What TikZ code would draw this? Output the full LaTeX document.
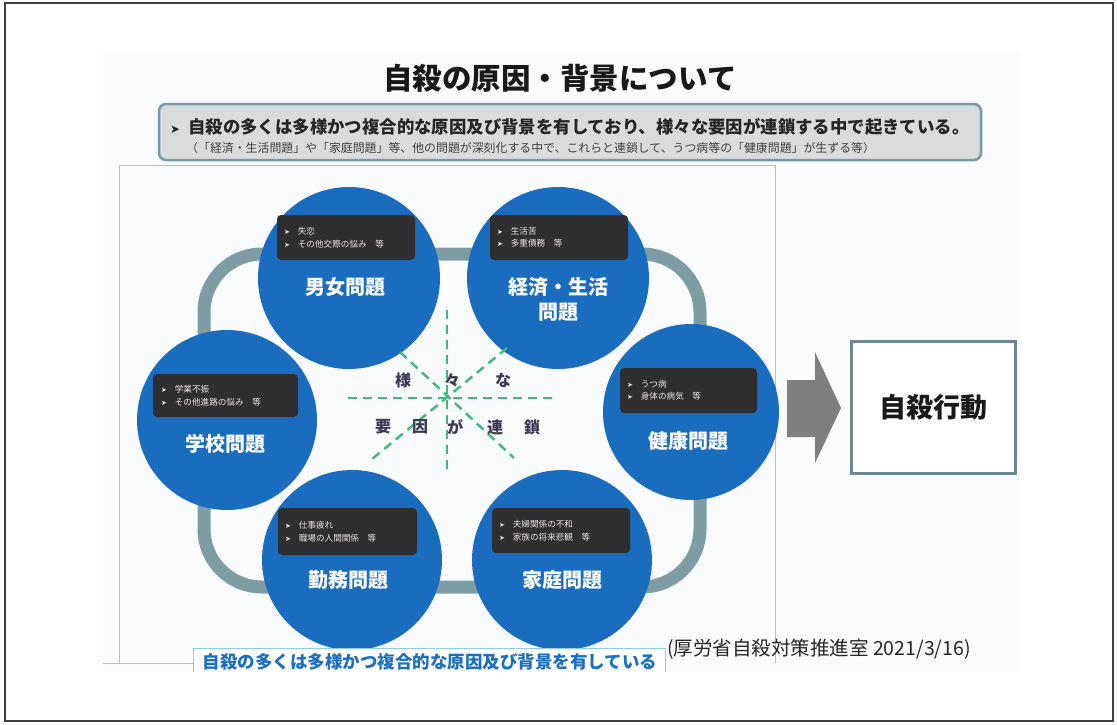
\documentclass[tikz,border=0pt]{standalone}
\usepackage{fontspec}
\setmainfont{Noto Sans CJK JP}
\newfontfamily\arrowfont{DejaVu Sans}
\definecolor{bgc}{HTML}{FAFBFD}
\definecolor{circc}{HTML}{1A6DBE}
\definecolor{dboxc}{HTML}{2F2F31}
\definecolor{loopc}{HTML}{7E9CA3}
\definecolor{boxfill}{HTML}{D9DBDD}
\definecolor{boxedge}{HTML}{7898A8}
\definecolor{panelc}{HTML}{8FCDE3}
\definecolor{greenc}{HTML}{3DB878}
\definecolor{navyt}{HTML}{3A3A56}
\definecolor{arrowc}{HTML}{7F7F7F}
\definecolor{actedge}{HTML}{6C8898}
\definecolor{bluet}{HTML}{1C6FC0}
\definecolor{smallt}{HTML}{EFE4E4}
\newcommand{\arr}{{\arrowfont\fontsize{7}{12}\selectfont ➤}\hspace{8pt}}
\begin{document}
\begin{tikzpicture}[x=1pt,y=-1pt,
  circ/.style={circle, fill=circc, minimum size=#1, inner sep=0pt},
  dbox/.style={fill=dboxc, rounded corners=4pt, text=smallt, align=left, inner sep=0pt,
     font=\fontsize{8.6}{12.5}\selectfont},
  clabel/.style={text=white, font=\fontsize{20}{25}\selectfont\bfseries, align=center},
  gdash/.style={draw=greenc, line width=2.4pt, dash pattern=on 9pt off 6pt},
  midtxt/.style={text=navyt, font=\fontsize{16}{16}\selectfont\bfseries},
  ]
\useasboundingbox (0,0) rectangle (1117,724);
\draw[black!75, line width=1.2pt] (5,3) rectangle (1113,721);
\fill[bgc] (103,53) rectangle (1019,672);

% title
\node[font=\fontsize{29.5}{30}\selectfont\bfseries, text=black!90] (title) at (560,78) {自殺の原因・背景について};

% intro box
\node[draw=boxedge, fill=boxfill, line width=2.5pt, rounded corners=7pt,
      minimum width=822pt, minimum height=56pt] (intro) at (570,132) {};
\node[anchor=west, inner sep=0pt, font=\fontsize{17.4}{18}\selectfont\bfseries, text=black!85] (intro1) at (170,127)
  {{\arrowfont\fontsize{12}{12}\selectfont ➤}\hspace{8pt}自殺の多くは多様かつ複合的な原因及び背景を有しており、様々な要因が連鎖する中で起きている。};
\node[anchor=west, inner sep=0pt, font=\fontsize{11.9}{12}\selectfont, text=black!75] (intro2) at (186,148)
  {（「経済・生活問題」や「家庭問題」等、他の問題が深刻化する中で、これらと連鎖して、うつ病等の「健康問題」が生ずる等）};

% panel
\draw[panelc, line width=0.9pt] (119,663) -- (119,165) -- (775,165) -- (775,663);
\draw[panelc, line width=0.9pt] (103,663) -- (193,663);

% loop
\draw[loopc, line width=13pt, rounded corners=58pt] (204,254) rectangle (700,587);

% circles
\node[circ=182pt] (danjo) at (349,278) {};
\node[circ=182pt] (keizai) at (558,278) {};
\node[circ=180pt] (gakko) at (227,420) {};
\node[circ=176pt] (kenko) at (691,412) {};
\node[circ=180pt] (kinmu) at (352,560) {};
\node[circ=180pt] (katei) at (562,560) {};

% dark boxes
\node[dbox, minimum width=138pt, minimum height=45pt, text width=124pt] (danjoB) at (346,237.5)
 {\arr 失恋\\\arr その他交際の悩み　等};
\node[dbox, minimum width=138pt, minimum height=45pt, text width=124pt] (keizaiB) at (559,237.5)
 {\arr 生活苦\\\arr 多重債務　等};
\node[dbox, minimum width=145pt, minimum height=43pt, text width=129pt] (gakkoB) at (225.5,395.5)
 {\arr 学業不振\\\arr その他進路の悩み　等};
\node[dbox, minimum width=137pt, minimum height=45pt, text width=123pt] (kenkoB) at (688.5,390.5)
 {\arr うつ病\\\arr 身体の病気　等};
\node[dbox, minimum width=139pt, minimum height=47pt, text width=125pt] (kinmuB) at (347.5,531.5)
 {\arr 仕事疲れ\\\arr 職場の人間関係　等};
\node[dbox, minimum width=138pt, minimum height=45pt, text width=124pt] (kateiB) at (561,530.5)
 {\arr 夫婦関係の不和\\\arr 家族の将来悲観　等};

% circle labels
\node[clabel] (danjoL) at (345,287) {男女問題};
\node[clabel] (keizaiL) at (558,299.5) {経済・生活\\問題};
\node[clabel] (gakkoL) at (225,444) {学校問題};
\node[clabel] (kenkoL) at (688,441) {健康問題};
\node[clabel] (kinmuL) at (348,580) {勤務問題};
\node[clabel] (kateiL) at (562,580) {家庭問題};

% green dashed burst
\coordinate (vt) at (447,310); \coordinate (vb) at (447,474);
\coordinate (hl) at (348,398); \coordinate (hr) at (557,398);
\coordinate (d1a) at (400,352); \coordinate (d1b) at (514,458);
\coordinate (d2a) at (507,348); \coordinate (d2b) at (372,459);
\draw[gdash] (vt) -- (vb);
\draw[gdash] (hl) -- (hr);
\draw[gdash] (d1a) -- (d1b);
\draw[gdash] (d2a) -- (d2b);

\node[midtxt] (m1) at (403,380) {様};
\node[midtxt] (m2) at (452,380) {々};
\node[midtxt] (m3) at (503,380) {な};
\node[midtxt] (m4) at (383,427) {要};
\node[midtxt] (m5) at (420,427) {因};
\node[midtxt] (m6) at (455,427) {が};
\node[midtxt] (m7) at (495,427) {連};
\node[midtxt] (m8) at (532,427) {鎖};

% block arrow
\fill[arrowc] (787,380) -- (815,380) -- (815,352) -- (841,408) -- (815,463) -- (815,437) -- (787,437) -- cycle;

% result box
\node[draw=actedge, line width=3.5pt, fill=white, minimum width=164pt, minimum height=132pt,
      font=\fontsize{27}{27}\selectfont\bfseries, text=black!90] (act) at (933.5,407.5) {自殺行動};

% bottom label
\draw[panelc, line width=0.9pt, fill=white] (193,672) -- (193,648) -- (665,648) -- (665,672);
\node[text=bluet, font=\fontsize{17.5}{18}\selectfont\bfseries] (botlabel) at (430,662) {自殺の多くは多様かつ複合的な原因及び背景を有している};

% citation
\node[anchor=west, inner sep=0pt, text=black!85, font=\fontsize{19.5}{20}\selectfont] (cite) at (667,649) {(厚労省自殺対策推進室 2021/3/16)};
\end{tikzpicture}
\end{document}
